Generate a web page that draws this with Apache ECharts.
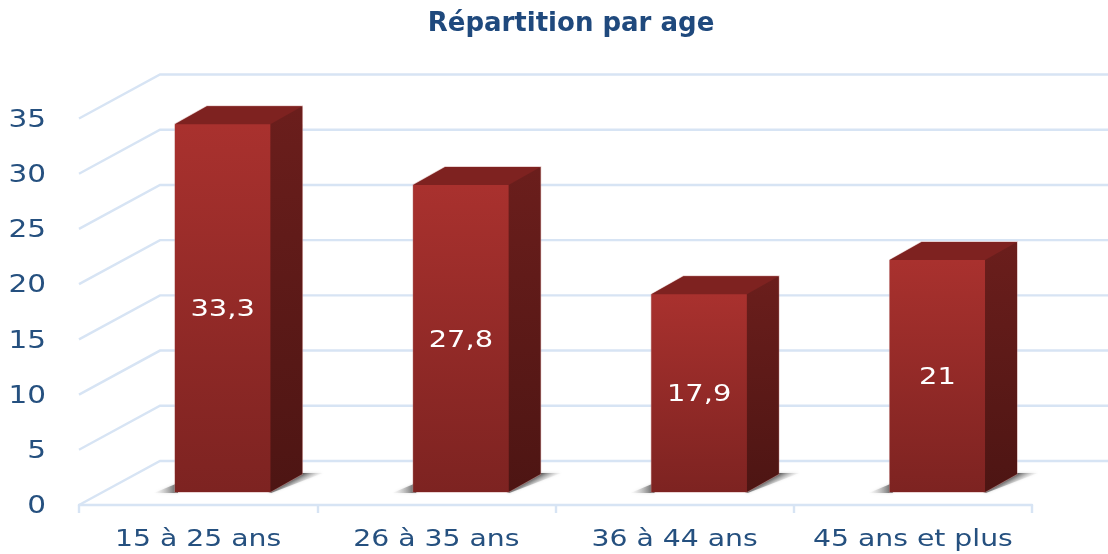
<!DOCTYPE html>
<html>
<head>
<meta charset="utf-8">
<style>
  html, body { margin: 0; padding: 0; background: #fff; }
  #chart { width: 1108px; height: 554px; }
</style>
<script src="https://cdn.jsdelivr.net/npm/echarts@6/dist/echarts.min.js"></script>
</head>
<body>
<div id="chart"></div>
<script>
// données
const categories = ['15 à 25 ans', '26 à 35 ans', '36 à 44 ans', '45 ans et plus'];
const values = [33.3, 27.8, 17.9, 21];
const yTicks = [0, 5, 10, 15, 20, 25, 30, 35];

const textColor = '#25507f';
const wallColor = '#d7e4f4';
const fontName = '"DejaVu Sans", sans-serif';
// le texte de l'image est étiré en largeur
const stretch = 1.23;

// profondeur du mur du fond par rapport au plan de l'axe
const wallDx = 81, wallDy = -44;
// décalage de la barre et sa profondeur
const barDx = 24.5, barDy = -13, barRatio = 0.4, depthX = 32, depthY = -18;

const chart = echarts.init(document.getElementById('chart'));

const vGrad = (top, bottom) => new echarts.graphic.LinearGradient(0, 0, 0, 1, [
  { offset: 0, color: top },
  { offset: 1, color: bottom }
]);

const wideText = (x, y, text, fill, font, align) => ({
  type: 'text',
  x: x,
  y: y,
  scaleX: stretch,
  style: { text: text, fill: fill, font: font, align: align, verticalAlign: 'middle' }
});

function renderWall(params, api) {
  const left = params.coordSys.x;
  const y = api.coord([0, api.value(1)])[1];
  return {
    type: 'group',
    children: [
      {
        type: 'polyline',
        shape: { points: [[left, y], [left + wallDx, y + wallDy], [api.getWidth(), y + wallDy]] },
        style: { stroke: wallColor, lineWidth: 2.4, fill: null }
      },
      wideText(left - 33, y + 2, String(api.value(1)), textColor, '24px ' + fontName, 'right')
    ]
  };
}

function renderCategory(params, api) {
  const p = api.coord([api.value(0), 0]);
  return wideText(p[0], p[1] + 35, categories[api.value(0)], textColor, '23px ' + fontName, 'center');
}

function renderBar(params, api) {
  const top = api.coord([api.value(0), api.value(1)]);
  const base = api.coord([api.value(0), 0]);
  const w = api.size([1, 0])[0] * barRatio;
  const x0 = top[0] + barDx - w / 2, x1 = x0 + w;
  const yT = top[1] + barDy, yB = base[1] + barDy;
  const sx = x1 + 14, sy = yB - 9;
  return {
    type: 'group',
    children: [
      // ombres au sol
      {
        type: 'polygon',
        shape: { points: [[x0 - 21, yB + 1], [x0 + 3, yB - 9], [x0 + 3, yB + 1]] },
        style: {
          fill: new echarts.graphic.LinearGradient(1, 0, 0, 0, [
            { offset: 0, color: 'rgba(70,70,70,0.9)' },
            { offset: 1, color: 'rgba(230,230,230,0.1)' }
          ]),
          shadowBlur: 3,
          shadowColor: 'rgba(130,130,130,0.4)'
        }
      },
      {
        type: 'polygon',
        shape: { points: [[x1 - 2, yB], [x1 + depthX - 2, yB + depthY - 1], [x1 + depthX + 21, yB + depthY - 1], [x1 + 1, yB + 1]] },
        style: {
          fill: new echarts.graphic.LinearGradient(sx, sy, sx + 5, sy + 9, [
            { offset: 0, color: 'rgba(60,60,60,0.95)' },
            { offset: 1, color: 'rgba(235,235,235,0.2)' }
          ], true),
          shadowBlur: 3,
          shadowColor: 'rgba(130,130,130,0.4)'
        }
      },
      // liseré clair autour de la barre
      {
        type: 'polygon',
        shape: { points: [[x0, yT], [x0 + depthX, yT + depthY], [x1 + depthX, yT + depthY], [x1 + depthX, yB + depthY], [x1, yB], [x0, yB]] },
        style: { fill: '#7e2220', stroke: 'rgba(200,140,138,0.5)', lineWidth: 1.5 }
      },
      // dessus
      {
        type: 'polygon',
        shape: { points: [[x0, yT], [x0 + depthX, yT + depthY], [x1 + depthX, yT + depthY], [x1, yT]] },
        style: { fill: '#7e2220' }
      },
      // côté
      {
        type: 'polygon',
        shape: { points: [[x1, yT], [x1 + depthX, yT + depthY], [x1 + depthX, yB + depthY], [x1, yB]] },
        style: { fill: vGrad('#6b1e1c', '#4d1513') }
      },
      // face
      {
        type: 'rect',
        shape: { x: x0, y: yT, width: w, height: yB - yT },
        style: { fill: vGrad('#a9312e', '#7d2321') }
      },
      wideText((x0 + x1) / 2, (yT + yB) / 2 + 2, String(api.value(1)).replace('.', ','), '#ffffff', '23.5px ' + fontName, 'center')
    ]
  };
}

chart.setOption({
  backgroundColor: '#ffffff',
  animation: false,
  title: {
    text: 'Répartition par age',
    left: 566,
    top: 6,
    textAlign: 'center',
    textStyle: { color: '#1f497d', fontFamily: fontName, fontWeight: 'bold', fontSize: 26 }
  },
  grid: { left: 79, right: 76, top: 118.5, bottom: 49 },
  xAxis: {
    type: 'category',
    data: categories,
    axisLine: { lineStyle: { color: wallColor, width: 2.4 } },
    axisTick: { show: true, length: 8, lineStyle: { color: wallColor, width: 2.4 } },
    axisLabel: { show: false }
  },
  yAxis: {
    type: 'value',
    min: 0,
    max: 35,
    interval: 5,
    axisLine: { show: false },
    axisTick: { show: false },
    splitLine: { show: false },
    axisLabel: { show: false }
  },
  series: [
    {
      type: 'custom',
      name: 'murs',
      silent: true,
      z: 1,
      renderItem: renderWall,
      encode: { x: 0, y: 1 },
      data: yTicks.map(t => [0, t])
    },
    {
      type: 'custom',
      name: 'categories',
      silent: true,
      z: 1,
      renderItem: renderCategory,
      encode: { x: 0 },
      data: categories.map((c, i) => [i, 0])
    },
    {
      type: 'custom',
      name: 'Répartition par age',
      z: 2,
      renderItem: renderBar,
      encode: { x: 0, y: 1 },
      data: values.map((v, i) => [i, v])
    }
  ]
});
</script>
</body>
</html>
